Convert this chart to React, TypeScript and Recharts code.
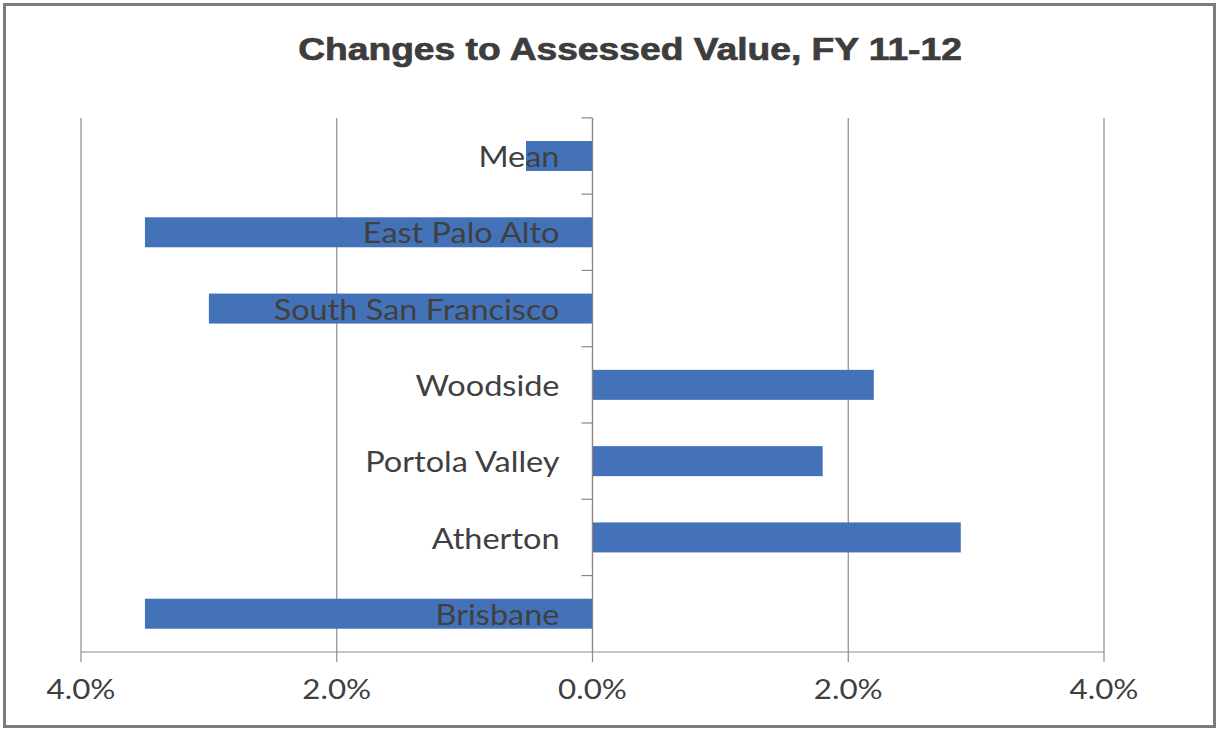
import React from 'react';
import { BarChart, Bar, XAxis, YAxis, CartesianGrid, ReferenceLine } from 'recharts';

const categories = ['Mean', 'East Palo Alto', 'South San Francisco', 'Woodside', 'Portola Valley', 'Atherton', 'Brisbane'];
const changes = [-0.52, -3.5, -3.0, 2.2, 1.8, 2.88, -3.5];
const xTicks = [-4, -2, 0, 2, 4];

const data = categories.map((name, i) => ({ name, value: changes[i] }));

const W = 1219;
const H = 731;
const X_AXIS_H = 30;
const margin = { top: 118, right: 115, bottom: 79 - X_AXIS_H, left: 81 };
const plotH = H - 118 - 79;
const band = plotH / categories.length;

const LABEL_FONT = 'Lato, "Open Sans", sans-serif';
const TEXT_COLOR = '#404040';
const ZERO_COLOR = '#9a8272';
const GRID_COLOR = '#8a8a9a';
const BAR_COLOR = '#4472b8';
const STRETCH = 1.16;

const BarWithLabel = (props: any) => {
  const { x, y, width, height, payload } = props;
  const left = Math.min(x, x + width);
  const w = Math.abs(width);
  const zeroX = payload.value < 0 ? left + w : left;
  const cy = y + height / 2;
  const tickY = cy - band / 2;
  return (
    <g>
      <rect x={left} y={y} width={w} height={height} fill={BAR_COLOR} />
      <line x1={zeroX - 11} x2={zeroX} y1={tickY} y2={tickY} stroke={ZERO_COLOR} strokeWidth={1.2} />
      <text
        transform={`translate(${zeroX - 33},${cy}) scale(${STRETCH},1)`}
        x={0}
        y={0}
        textAnchor="end"
        dominantBaseline="central"
        fontFamily={LABEL_FONT}
        fontSize={28}
        fill={TEXT_COLOR}
      >
        {payload.name}
      </text>
    </g>
  );
};

const XTick = (props: any) => {
  const { x, y, payload } = props;
  return (
    <text
      transform={`translate(${x},${y}) scale(${STRETCH},1)`}
      x={0}
      y={0}
      dy="0.71em"
      textAnchor="middle"
      fontFamily={LABEL_FONT}
      fontSize={27}
      fill={TEXT_COLOR}
    >
      {Math.abs(payload.value).toFixed(1) + '%'}
    </text>
  );
};

export default function App() {
  return (
    <div style={{ position: 'absolute', left: 0, top: 0, width: W, height: H, background: '#ffffff' }}>
      <div
        style={{
          position: 'absolute',
          left: 3,
          top: 3,
          width: W - 6,
          height: H - 6,
          border: '3px solid #7c7c7c',
          boxSizing: 'border-box',
        }}
      />
      <div
        style={{
          position: 'absolute',
          left: 0,
          top: 30,
          width: 1260,
          textAlign: 'center',
          fontFamily: '"Liberation Sans", Arial, sans-serif',
          fontWeight: 'bold',
          fontSize: 31,
          color: '#3d3d3d',
          lineHeight: '40px',
          transform: 'scaleX(1.2)',
          transformOrigin: '630px 50%',
          WebkitTextStroke: '0.7px #3d3d3d',
        }}
      >
        Changes to Assessed Value, FY 11-12
      </div>
      <div style={{ position: 'absolute', left: 0, top: 0 }}>
        <BarChart width={W} height={H} data={data} layout="vertical" margin={margin}>
          <CartesianGrid horizontal={false} vertical={true} stroke={GRID_COLOR} strokeWidth={1.2} />
          <XAxis
            type="number"
            domain={[-4, 4]}
            ticks={xTicks}
            height={X_AXIS_H}
            axisLine={{ stroke: GRID_COLOR, strokeWidth: 1.2 }}
            tickLine={{ stroke: GRID_COLOR, strokeWidth: 1.2 }}
            tickSize={10}
            tickMargin={18}
            tick={<XTick />}
            allowDataOverflow={true}
          />
          <YAxis type="category" dataKey="name" hide />
          <ReferenceLine x={0} stroke={ZERO_COLOR} strokeWidth={1.2} />
          <Bar dataKey="value" barSize={30} shape={BarWithLabel} isAnimationActive={false} />
        </BarChart>
      </div>
    </div>
  );
}
